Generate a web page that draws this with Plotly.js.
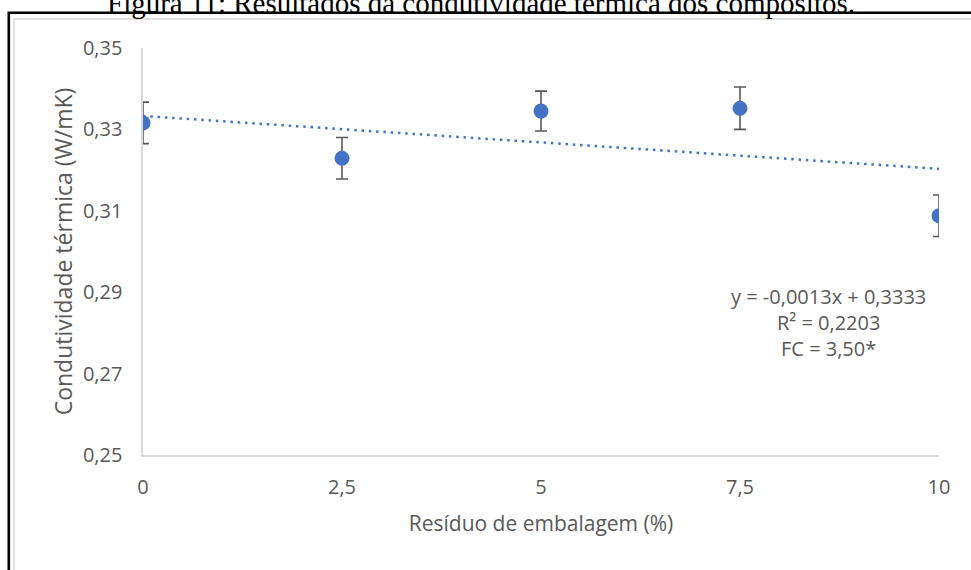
<!DOCTYPE html>
<html>
<head>
<meta charset="utf-8">
<script src="https://cdn.plot.ly/plotly-3.0.1.min.js"></script>
<style>
  html, body { margin: 0; padding: 0; background: #fff; }
  #chart { width: 971px; height: 570px; }
</style>
</head>
<body>
<div id="chart"></div>
<script>
// Teor de resíduo de embalagem (%) e condutividade térmica medida (W/mK)
const residuo = [0, 2.5, 5, 7.5, 10];
const condutividade = [0.3316, 0.3229, 0.3345, 0.3352, 0.3088];
const desvio = [0.0051, 0.0051, 0.0049, 0.0052, 0.0051];

// Coeficientes da linha de tendência linear
const inclinacao = -0.0013;
const intercepto = 0.3333;
const tendenciaX = [0, 10];

// Rótulos dos eixos
const xTicks = [0, 2.5, 5, 7.5, 10];
const xTickText = ['0', '2,5', '5', '7,5', '10'];
const yTicks = [0.25, 0.27, 0.29, 0.31, 0.33, 0.35];
const yTickText = ['0,25', '0,27', '0,29', '0,31', '0,33', '0,35'];

const eqLines = ['y = -0,0013x + 0,3333', 'R² = 0,2203', 'FC = 3,50*'];
const legenda = 'Figura 11: Resultados da condutividade térmica dos compósitos.';

const txtColor = '#595959';
const axisColor = '#d9d9d9';
const font = 'Open Sans, Liberation Sans, sans-serif';

const tendenciaY = tendenciaX.map(x => inclinacao * x + intercepto);

const traces = [
  {
    x: tendenciaX,
    y: tendenciaY,
    mode: 'lines',
    line: { color: '#4472C4', width: 2.5, dash: '2.5px,4.8px' },
    hoverinfo: 'skip',
    showlegend: false
  },
  {
    x: residuo,
    y: condutividade,
    mode: 'markers',
    marker: { color: '#4472C4', size: 15 },
    error_y: {
      type: 'data',
      array: desvio,
      visible: true,
      color: '#595959',
      thickness: 1.6,
      width: 6
    },
    showlegend: false
  }
];

// Coordenadas em papel para a moldura externa (área de plotagem: x 143–939 px, y 48–455 px)
const px = v => (v - 143) / 796;
const py = v => (455 - v) / 407;

const layout = {
  width: 971,
  height: 570,
  margin: { l: 143, r: 32, t: 48, b: 115 },
  paper_bgcolor: '#ffffff',
  plot_bgcolor: '#ffffff',
  separators: ', ',
  font: { family: font, color: txtColor, size: 21 },
  xaxis: {
    range: [0, 10],
    tickvals: xTicks,
    ticktext: xTickText,
    showgrid: false,
    zeroline: false,
    showline: true,
    linecolor: axisColor,
    linewidth: 1.6,
    ticks: '',
    ticklabelstandoff: 13,
    tickfont: { size: 20, color: txtColor },
    title: { text: 'Resíduo de embalagem (%)', font: { size: 21, color: txtColor }, standoff: 18 }
  },
  yaxis: {
    range: [0.25, 0.35],
    tickvals: yTicks,
    ticktext: yTickText,
    showgrid: false,
    zeroline: false,
    showline: true,
    linecolor: axisColor,
    linewidth: 1.6,
    ticks: '',
    ticklabelstandoff: 15,
    tickfont: { size: 20, color: txtColor },
    title: { text: 'Condutividade térmica (W/mK)', font: { size: 23, color: txtColor }, standoff: 4 }
  },
  shapes: [
    {
      type: 'rect', xref: 'paper', yref: 'paper',
      x0: px(14), x1: px(1000), y0: py(600), y1: py(19),
      line: { color: '#d9d9d9', width: 1.5 }, layer: 'below'
    },
    {
      type: 'rect', xref: 'paper', yref: 'paper',
      x0: px(8.8), x1: px(1000), y0: py(600), y1: py(12.8),
      line: { color: '#000000', width: 2.6 }, layer: 'below'
    }
  ],
  annotations: [
    {
      text: eqLines.join('<br>'),
      xref: 'paper', yref: 'paper',
      x: px(828), y: py(322),
      xanchor: 'center', yanchor: 'middle',
      align: 'center',
      showarrow: false,
      font: { family: font, size: 20, color: txtColor }
    },
    {
      text: legenda,
      xref: 'paper', yref: 'paper',
      x: px(481), y: py(20),
      xanchor: 'center', yanchor: 'bottom',
      borderpad: 0,
      showarrow: false,
      font: { family: 'Liberation Serif, Times New Roman, serif', size: 29, color: '#000000' }
    }
  ]
};

Plotly.newPlot('chart', traces, layout, { displayModeBar: false, staticPlot: true });
</script>
</body>
</html>
